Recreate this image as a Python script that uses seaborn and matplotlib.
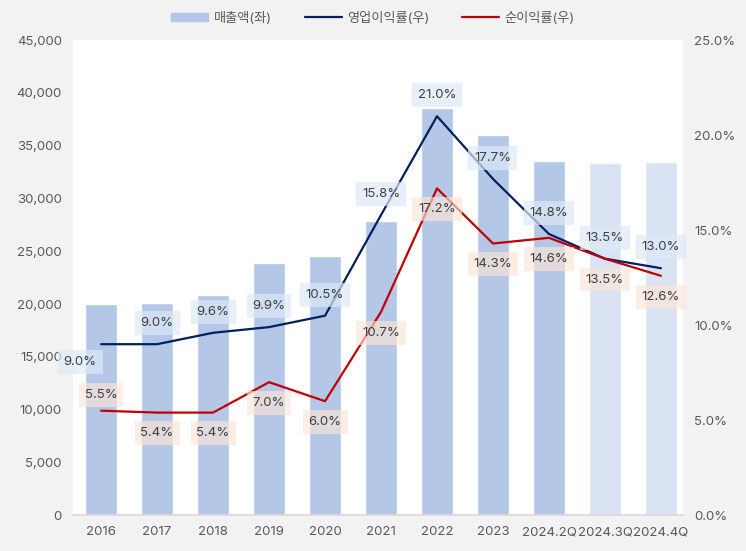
import numpy as np
import seaborn as sns
import matplotlib.pyplot as plt
from matplotlib.patches import Patch
from matplotlib.lines import Line2D
from matplotlib.ticker import FuncFormatter

# 매출액 (left axis) and margins (right axis, %)
periods = ['2016', '2017', '2018', '2019', '2020', '2021', '2022', '2023',
           '2024.2Q', '2024.3Q', '2024.4Q']
sales = [20000, 20100, 20900, 23900, 24600, 27850, 38600, 36000, 33550, 33350, 33450]
op_margin = [9.0, 9.0, 9.6, 9.9, 10.5, 15.8, 21.0, 17.7, 14.8, 13.5, 13.0]
net_margin = [5.5, 5.4, 5.4, 7.0, 6.0, 10.7, 17.2, 14.3, 14.6, 13.5, 12.6]
is_estimate = [False] * 9 + [True] * 2

sns.set_theme(style='white')
plt.rcParams['font.family'] = ['Inter', 'Noto Sans CJK KR', 'DejaVu Sans']

grey = '#595959'
bar_actual = '#b4c7e7'
bar_est = '#dae3f3'
navy = '#002060'
red = '#c00000'

fig = plt.figure(figsize=(7.46, 5.51), dpi=100, facecolor='#f2f2f2')
ax = fig.add_axes([0.098, 0.065, 0.818, 0.862])
ax.set_facecolor('white')

bar_colors = [bar_est if e else bar_actual for e in is_estimate]
sns.barplot(x=periods, y=sales, hue=periods, palette=bar_colors, legend=False,
            width=0.56, saturation=1, ax=ax)
ax.set_ylim(0, 45000)
ax.set_xlim(-0.5, 10.4)
ax.yaxis.set_major_locator(plt.MultipleLocator(5000))
ax.yaxis.set_major_formatter(FuncFormatter(lambda v, p: f'{v:,.0f}'))

ax2 = ax.twinx()
xs = np.arange(len(periods))
sns.lineplot(x=xs, y=op_margin, color=navy, linewidth=1.6, ax=ax2)
sns.lineplot(x=xs, y=net_margin, color=red, linewidth=1.6, ax=ax2)
ax2.set_ylim(0, 25)
ax2.set_xlim(-0.5, 10.4)
ax2.yaxis.set_major_locator(plt.MultipleLocator(5))
ax2.yaxis.set_major_formatter(FuncFormatter(lambda v, p: f'{v:.1f}%'))

for a in (ax, ax2):
    for s in a.spines.values():
        s.set_visible(False)
    a.tick_params(length=0, labelsize=9.5, colors=grey, pad=8)
ax.spines['bottom'].set_visible(True)
ax.spines['bottom'].set_color('#d9d9d9')
ax.set_xlabel('')
ax.set_ylabel('')

# data labels
op_offsets = [(-15, -13)] + [(0, 15)] * 10
net_offsets = [(0, 11)] + [(0, -15)] * 10
for i, v in enumerate(op_margin):
    ax2.annotate(f'{v:.1f}%', (i, v), xytext=op_offsets[i], textcoords='offset points',
                 ha='center', va='center', fontsize=9.5, color='#404040',
                 bbox=dict(boxstyle='square,pad=0.45', fc='#dde9f6', ec='none', alpha=0.7))
for i, v in enumerate(net_margin):
    ax2.annotate(f'{v:.1f}%', (i, v), xytext=net_offsets[i], textcoords='offset points',
                 ha='center', va='center', fontsize=9.5, color='#404040',
                 bbox=dict(boxstyle='square,pad=0.45', fc='#fbe5d6', ec='none', alpha=0.65))

handles = [Patch(color=bar_actual, label='매출액(좌)'),
           Line2D([], [], color=navy, lw=1.6, label='영업이익률(우)'),
           Line2D([], [], color=red, lw=1.6, label='순이익률(우)')]
fig.legend(handles=handles, loc='center', bbox_to_anchor=(0.5, 0.967), ncol=3,
           frameon=False, fontsize=9.5, labelcolor=grey, handlelength=2.8,
           handleheight=0.6, columnspacing=2.5, handletextpad=0.4)

fig.savefig('out.png', dpi=100, facecolor=fig.get_facecolor())
